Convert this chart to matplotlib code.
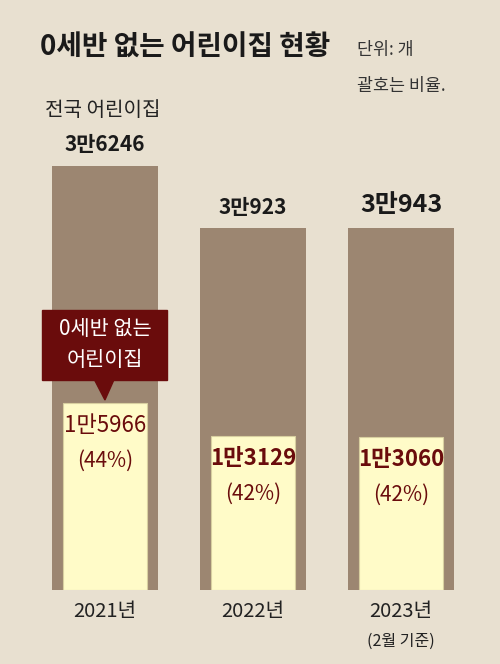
import matplotlib
matplotlib.use("Agg")
import matplotlib.pyplot as plt
from matplotlib.patches import Polygon, Rectangle

plt.rcParams['font.family'] = ['Noto Sans CJK KR', 'DejaVu Sans']

years = ["2021년", "2022년", "2023년"]
totals = [36246, 30923, 30943]
total_labels = ["3만6246", "3만923", "3만943"]
no_infant = [15966, 13129, 13060]
no_infant_labels = ["1만5966", "1만3129", "1만3060"]
shares = ["(44%)", "(42%)", "(42%)"]

BG = "#e8e0d0"
BROWN = "#9c8671"
PALE = "#fffbc8"
DARK = "#6a0c0c"

fig = plt.figure(figsize=(5.0, 6.64), dpi=100)
fig.patch.set_facecolor(BG)
ax = fig.add_axes([0, 74 / 664, 1, 590 / 664])
ax.set_facecolor(BG)
ax.set_xlim(-0.709, 2.669)
ax.set_ylim(0, 590 / 0.0117)
ax.axis("off")

x = range(len(years))
ax.bar(x, totals, width=0.716, color=BROWN)
ax.bar(x, no_infant, width=0.57, color=PALE, edgecolor="#d8cfa0", linewidth=0.8)

for i in x:
    big = i == 2
    ax.text(i, totals[i] + 900, total_labels[i], ha="center", va="bottom",
            fontsize=18 if big else 15, fontweight="bold", color="#1a1a1a")
    ax.text(i, no_infant[i] - 900, no_infant_labels[i], ha="center", va="top",
            fontsize=16, color=DARK, fontweight="bold" if i else "normal")
    ax.text(i, no_infant[i] - 4000, shares[i], ha="center", va="top",
            fontsize=15, color=DARK)


def py(p):
    # pixel row -> data value
    return (590 - p) / 0.0117


# callout
ax.add_patch(Rectangle((-0.426, py(380)), 0.845, py(310) - py(380), color=DARK))
ax.add_patch(Polygon([(-0.07, py(380)), (0.06, py(380)), (0.0, py(400))], color=DARK))
ax.text(0, py(329), "0세반 없는", ha="center", va="center", color="white", fontsize=15)
ax.text(0, py(360), "어린이집", ha="center", va="center", color="white", fontsize=15)

# header
fig.text(40 / 500, 1 - 48 / 664, "0세반 없는 어린이집 현황", fontsize=20, fontweight="bold",
         va="center", color="#1a1a1a")
fig.text(357 / 500, 1 - 50 / 664, "단위: 개", fontsize=12.5, va="center", color="#333333")
fig.text(357 / 500, 1 - 86 / 664, "괄호는 비율.", fontsize=12.5, va="center", color="#333333")
fig.text(45 / 500, 1 - 110 / 664, "전국 어린이집", fontsize=14.5, va="center", color="#222222")

for i, yr in enumerate(years):
    fig.text((105 + 148 * i) / 500, 1 - 612 / 664, yr, ha="center", va="center",
             fontsize=14.5, color="#222222")
fig.text(401 / 500, 1 - 641 / 664, "(2월 기준)", ha="center", va="center",
         fontsize=11.5, color="#222222")

fig.savefig("out.png", dpi=100, facecolor=BG)
